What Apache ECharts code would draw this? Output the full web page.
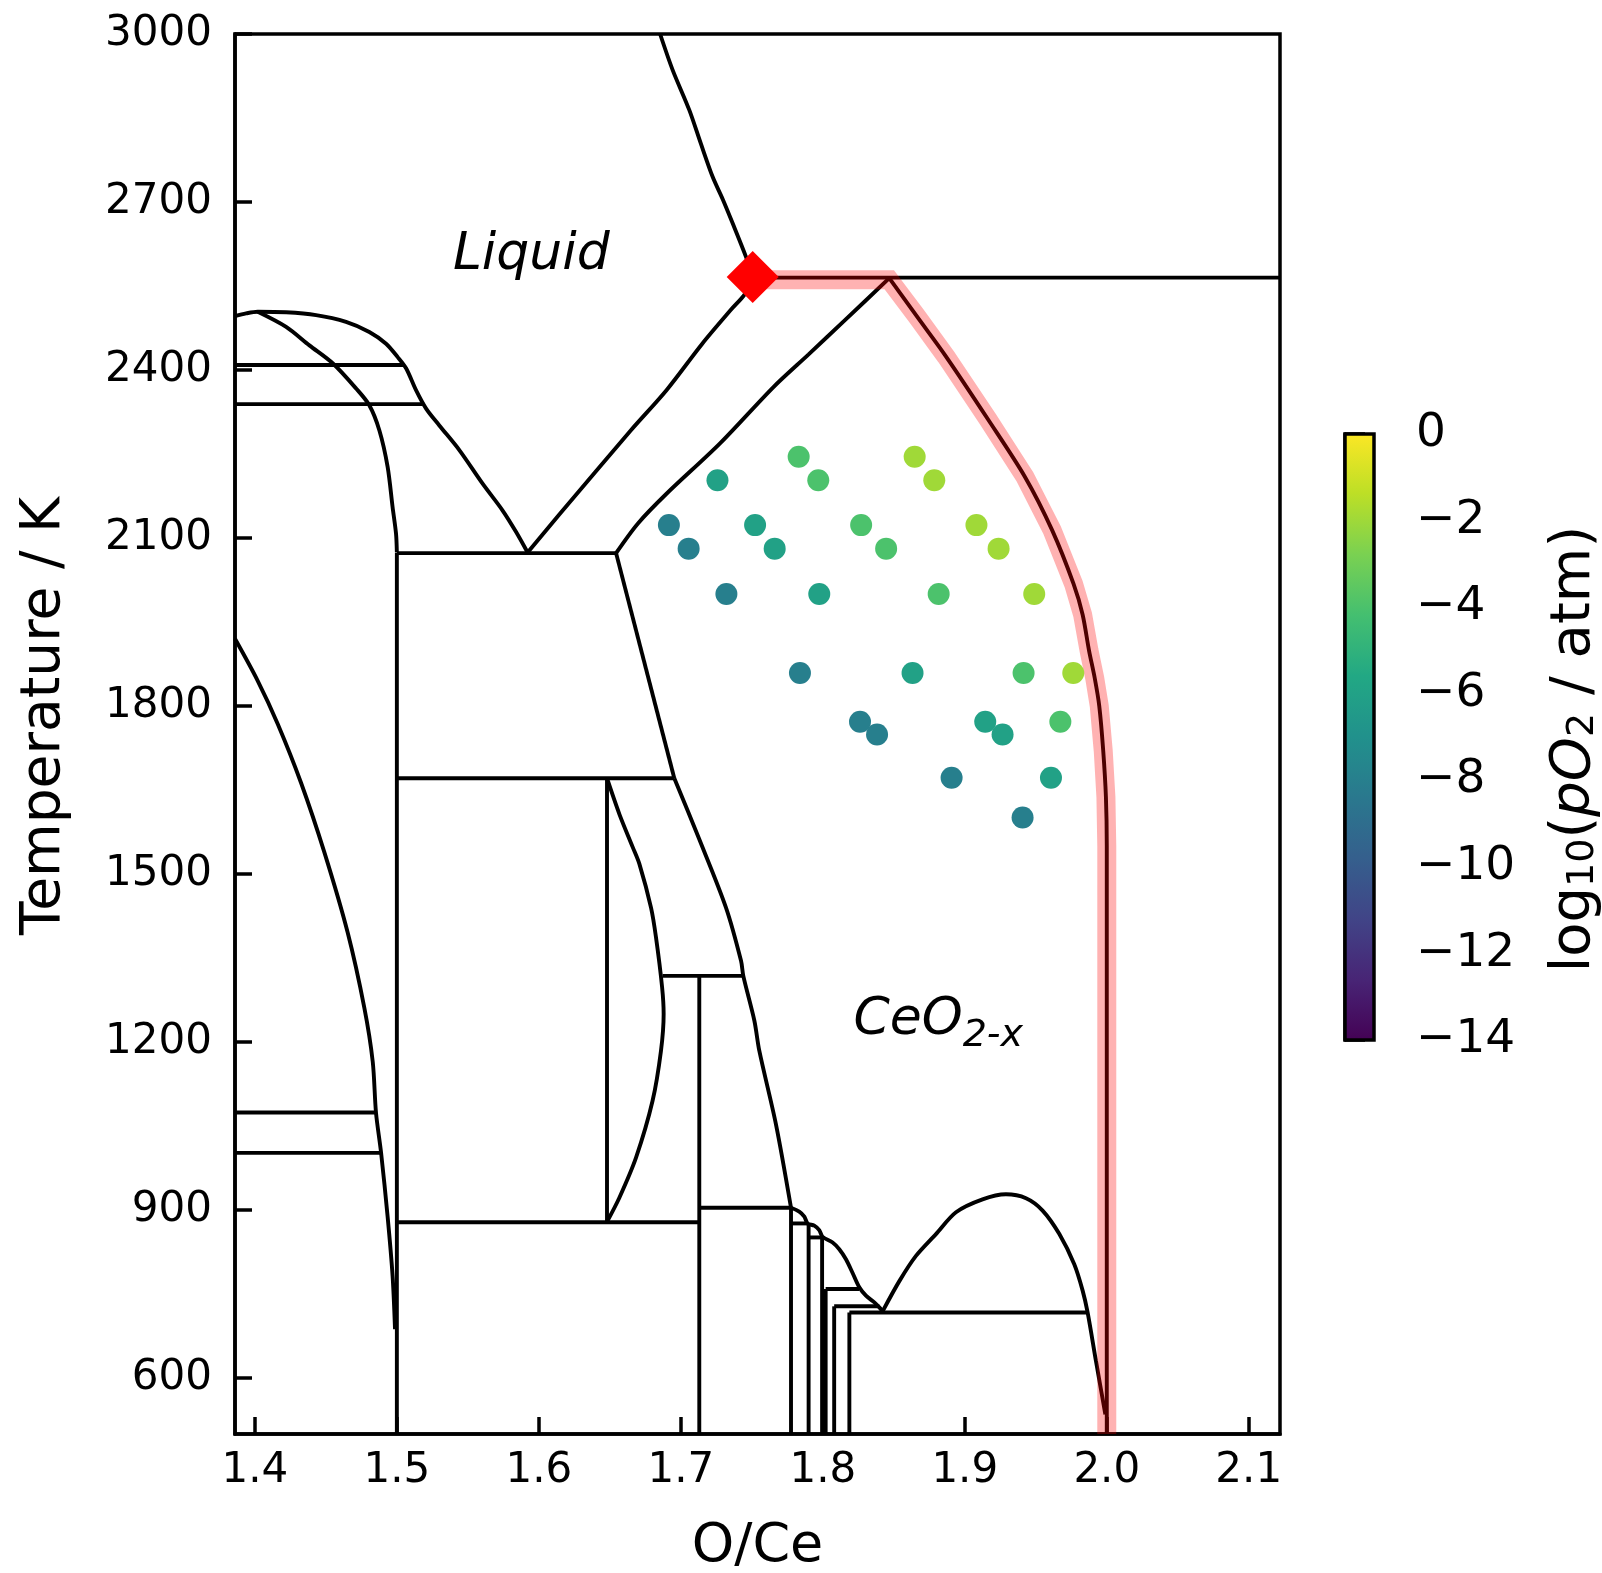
<!DOCTYPE html>
<html>
<head>
<meta charset="utf-8">
<script src="https://cdn.jsdelivr.net/npm/echarts@6.0.0/dist/echarts.min.js"></script>
<style>
html, body { margin: 0; padding: 0; background: #fff; }
#main { width: 1602px; height: 1573px; }
</style>
</head>
<body>
<div id="main"></div>
<script>
// axis ticks
const xTicks = [1.4, 1.5, 1.6, 1.7, 1.8, 1.9, 2.0, 2.1];
const yTicks = [600, 900, 1200, 1500, 1800, 2100, 2400, 2700, 3000];

// phase boundaries, points are [O/Ce, T / K]
const domeOuter = [[1.386,2496],[1.3938,2501],[1.402,2504],[1.422,2503],[1.4431,2498],[1.4642,2486],[1.4806,2468],[1.4924,2447],[1.5006,2423],[1.5065,2403],[1.5135,2364],[1.5206,2331],[1.5299,2301],[1.544,2257],[1.5604,2197],[1.5745,2149],[1.5839,2111],[1.5921,2074]];
const domeInner = [[1.402,2504],[1.422,2477],[1.4384,2444],[1.4548,2412],[1.4713,2367],[1.4806,2337],[1.4877,2292],[1.4935,2227],[1.497,2155],[1.4994,2108],[1.5,2074]];
const tie2409 = [[1.386,2409],[1.5047,2409]];
const tie2339 = [[1.386,2339],[1.518,2339]];
const tie2073 = [[1.5,2073],[1.6544,2073]];
const liquidusMid = [[1.5921,2074],[1.6144,2142],[1.6647,2292],[1.6899,2364],[1.7151,2447],[1.7351,2507],[1.7452,2536],[1.7506,2566]];
const liquidusTop = [[1.7506,2566],[1.7459,2602],[1.7365,2662],[1.7295,2705],[1.7224,2745],[1.714,2805],[1.706,2864],[1.6942,2936],[1.6854,3000]];
const tie2565 = [[1.7506,2565],[2.122,2565]];
const ceo2Left = [[1.8468,2564],[1.8156,2489],[1.79,2428],[1.7654,2370],[1.7276,2269],[1.6899,2179],[1.6698,2126],[1.6544,2073]];
const ceo2Right = [[1.8468,2564],[1.8659,2497],[1.8868,2424],[1.9163,2312],[1.9424,2209],[1.9615,2114],[1.9766,2018],[1.983,1963],[1.9875,1899],[1.9915,1850],[1.9947,1800],[1.9975,1720],[1.9994,1637],[2.0,1550],[2.0,1461],[2.0,500]];
const pinkPath = [[1.7506,2561],[1.8468,2561],[1.8659,2497],[1.8868,2424],[1.9163,2312],[1.9424,2209],[1.9615,2114],[1.9766,2018],[1.983,1963],[1.9875,1899],[1.9915,1850],[1.9947,1800],[1.9975,1720],[1.9994,1637],[2.0,1550],[2.0,1461],[2.0,500]];
const ce7Upper = [[1.6544,2073],[1.6954,1671]];
const tie1671 = [[1.5,1671],[1.6954,1671]];
const line150 = [[1.5,2073],[1.5,500]];
const line1648 = [[1.648,1671],[1.648,879]];
const lens = [[1.648,1671],[1.6567,1607],[1.6661,1548],[1.6708,1518],[1.679,1440],[1.6825,1387],[1.6868,1298],[1.6879,1250],[1.686,1184],[1.6801,1095],[1.6685,994],[1.6567,922],[1.648,879]];
const tie1318 = [[1.6872,1318],[1.744,1318]];
const line1713 = [[1.713,1318],[1.713,500]];
const tie878 = [[1.5,878],[1.713,878]];
const ce7Lower = [[1.6954,1671],[1.713,1562],[1.7318,1440],[1.7424,1345],[1.744,1318],[1.7518,1238],[1.7553,1184],[1.767,1053],[1.7776,904]];
const tie904 = [[1.713,904],[1.7776,904]];
const stepCurve = [[1.7776,904],[1.7834,897],[1.787,888],[1.7893,876],[1.794,872],[1.7975,864],[1.7999,852],[1.8069,842],[1.8116,830],[1.8163,812],[1.8209,788],[1.8257,762],[1.8304,747],[1.8363,735],[1.8398,726],[1.8421,719]];
const tie876 = [[1.7776,876],[1.7893,876]];
const tie851 = [[1.79,851],[1.7999,851]];
const tie759 = [[1.802,759],[1.8257,759]];
const tie728 = [[1.808,728],[1.8398,728]];
const tie717 = [[1.8187,717],[1.9865,717]];
const line1778 = [[1.7776,904],[1.7776,500]];
const line1790 = [[1.79,876],[1.79,500]];
const line1800 = [[1.7995,851],[1.7995,500]];
const line1802 = [[1.802,759],[1.802,500]];
const line1808 = [[1.808,728],[1.808,500]];
const line1819 = [[1.8187,717],[1.8187,500]];
const gapDome = [[1.8421,719],[1.8539,773],[1.8656,818],[1.8797,857],[1.8938,896],[1.9125,919],[1.929,928],[1.9431,921],[1.9548,899],[1.9666,857],[1.9771,803],[1.983,756],[1.9865,717],[1.9924,630],[1.999,535]];
const leftCurve = [[1.386,1920],[1.402,1845],[1.4161,1768],[1.4325,1663],[1.4489,1539],[1.4654,1395],[1.4771,1261],[1.483,1165],[1.4853,1074],[1.4889,1002],[1.4935,888],[1.497,782],[1.4987,687]];
const tie1074 = [[1.386,1074],[1.4853,1074]];
const tie1002 = [[1.386,1002],[1.4889,1002]];

// measured compositions
const dotRatio = [1.783,1.8647, 1.7258,1.7968,1.8785, 1.6916,1.7523,1.827,1.9082, 1.7055,1.7661,1.8446,1.9238,
  1.7321,1.7975,1.8816,1.9489, 1.7839,1.8632,1.9414,1.9764, 1.8262,1.9144,1.9673, 1.8382,1.9266, 1.8907,1.9607, 1.9407];
const dotTemp = [2245,2245, 2203,2203,2203, 2123,2123,2123,2123, 2081,2081,2081,2081,
  2000,2000,2000,2000, 1859,1859,1859,1859, 1772,1772,1772, 1749,1749, 1672,1672, 1601];
const dotLogPO2 = [-4,-2, -6,-4,-2, -8,-6,-4,-2, -8,-6,-4,-2,
  -8,-6,-4,-2, -8,-6,-4,-2, -8,-6,-4, -8,-6, -8,-6, -8];

const congruentPoint = [[1.7506, 2566]];

const cbMin = -14, cbMax = 0;
const viridis = ['#440154','#482475','#414487','#355f8d','#2a788e','#21918c','#22a884','#44bf70','#7ad151','#bddf26','#fde725'];

const FONT = 'DejaVu Sans';
const chart = echarts.init(document.getElementById('main'));

const curved = [domeOuter, domeInner, liquidusMid, liquidusTop, ceo2Left, ceo2Right, lens, ce7Lower, stepCurve, gapDome, leftCurve];
const blackLines = [domeOuter, domeInner, tie2409, tie2339, tie2073, liquidusMid, liquidusTop, tie2565, ceo2Left, ceo2Right,
  ce7Upper, tie1671, line150, line1648, lens, tie1318, line1713, tie878, ce7Lower, tie904, stepCurve,
  tie876, tie851, tie759, tie728, tie717, line1778, line1790, line1800, line1802, line1808, line1819,
  gapDome, leftCurve, tie1074, tie1002];

const series = blackLines.map(arr => ({
  type: 'line',
  data: arr,
  symbol: 'none',
  smooth: curved.includes(arr) ? 0.3 : false,
  lineStyle: { color: '#000', width: 3.9 },
  z: 2,
  silent: true
}));

series.push({
  type: 'line',
  data: pinkPath,
  symbol: 'none',
  smooth: false,
  lineStyle: { color: 'rgba(255,0,0,0.3)', width: 19, join: 'miter' },
  z: 3,
  silent: true
});

const dotsIndex = series.length;
series.push({
  type: 'scatter',
  data: dotRatio.map((x, i) => [x, dotTemp[i], dotLogPO2[i]]),
  symbolSize: 22,
  itemStyle: { opacity: 1 },
  z: 4
});

series.push({
  type: 'scatter',
  data: congruentPoint,
  symbol: 'diamond',
  symbolSize: 52,
  itemStyle: { color: '#ff0000', opacity: 1 },
  z: 5
});

// region labels
const labelRich = {
  it: { fontFamily: FONT, fontSize: 52, fontStyle: 'italic', color: '#000', verticalAlign: 'top', lineHeight: 54 },
  sub: { fontFamily: FONT, fontSize: 38, fontStyle: 'italic', color: '#000', verticalAlign: 'top', lineHeight: 38, padding: [22, 0, 0, 0] }
};
const regionLabel = (pt, text) => ({
  type: 'scatter',
  data: [pt],
  symbolSize: 0,
  itemStyle: { opacity: 1 },
  label: { show: true, position: 'inside', color: '#000', opacity: 1, textBorderWidth: 0, formatter: text, rich: labelRich },
  z: 6
});
series.push(regionLabel([1.5947, 2602], '{it|Liquid}'));
series.push(regionLabel([1.8813, 1236], '{it|CeO}{sub|2-x}'));

// colour bar
series.push({
  type: 'custom',
  xAxisIndex: 1,
  yAxisIndex: 1,
  data: [[0]],
  silent: true,
  renderItem: function (params, api) {
    const p0 = api.coord([0, cbMax]);
    const p1 = api.coord([1, cbMin]);
    return {
      type: 'rect',
      shape: { x: p0[0], y: p0[1], width: p1[0] - p0[0], height: p1[1] - p0[1] },
      style: {
        fill: new echarts.graphic.LinearGradient(0, 1, 0, 0,
          viridis.map((c, i) => ({ offset: i / (viridis.length - 1), color: c }))),
        stroke: '#000',
        lineWidth: 3.5
      }
    };
  }
});

const tickText = { fontFamily: FONT, fontSize: 42, color: '#000' };

const option = {
  animation: false,
  backgroundColor: '#fff',
  grid: [
    { left: 235, top: 34, width: 1045, height: 1400, show: true, borderColor: '#000', borderWidth: 3.5,
      backgroundColor: 'transparent', containLabel: false, outerBoundsMode: 'none' },
    { left: 1345, top: 434, width: 29, height: 606, containLabel: false, outerBoundsMode: 'none' }
  ],
  xAxis: [
    {
      type: 'value', min: 1.386, max: 2.122,
      name: 'O/Ce', nameLocation: 'middle', nameGap: 86,
      nameTextStyle: { fontFamily: FONT, fontSize: 54, color: '#000' },
      axisLine: { lineStyle: { color: '#000', width: 3.5 } },
      axisTick: { inside: true, length: 17, lineStyle: { color: '#000', width: 3.5 }, customValues: xTicks },
      axisLabel: Object.assign({ margin: 16, customValues: xTicks, formatter: v => v.toFixed(1) }, tickText),
      splitLine: { show: false }
    },
    { gridIndex: 1, type: 'value', min: 0, max: 1, show: false }
  ],
  yAxis: [
    {
      type: 'value', min: 500, max: 3000,
      name: 'Temperature / K', nameLocation: 'middle', nameGap: 163, nameRotate: 90,
      nameTextStyle: { fontFamily: FONT, fontSize: 55, color: '#000', padding: [0, 0, 0, 36] },
      axisLine: { lineStyle: { color: '#000', width: 3.5 } },
      axisTick: { inside: true, length: 17, lineStyle: { color: '#000', width: 3.5 }, customValues: yTicks },
      axisLabel: Object.assign({ margin: 23, customValues: yTicks, formatter: v => String(v) }, tickText),
      splitLine: { show: false }
    },
    {
      gridIndex: 1, type: 'value', min: cbMin, max: cbMax, interval: 2, position: 'right',
      name: '{n|log}{s|10}{n|(}{i|pO}{s|2}{n| / atm)}', nameLocation: 'middle', nameGap: 172, nameRotate: 90,
      nameTextStyle: {
        padding: [0, 24, 0, 0],
        rich: {
          n: { fontFamily: FONT, fontSize: 56, color: '#000', verticalAlign: 'bottom' },
          i: { fontFamily: FONT, fontSize: 56, fontStyle: 'italic', color: '#000', verticalAlign: 'bottom' },
          s: { fontFamily: FONT, fontSize: 38, color: '#000', verticalAlign: 'bottom' }
        }
      },
      axisLine: { show: true, lineStyle: { color: '#000', width: 3.5 } },
      axisTick: { show: true, inside: false, length: 20, lineStyle: { color: '#000', width: 3.5 } },
      axisLabel: { show: true, margin: 42, fontFamily: FONT, fontSize: 47, color: '#000',
        formatter: v => v < 0 ? '\u2212' + Math.abs(v) : String(v) },
      splitLine: { show: false }
    }
  ],
  visualMap: {
    type: 'continuous', show: false, seriesIndex: dotsIndex,
    dimension: 2, min: cbMin, max: cbMax,
    inRange: { color: viridis }
  },
  series: series
};

chart.setOption(option);
</script>
</body>
</html>
